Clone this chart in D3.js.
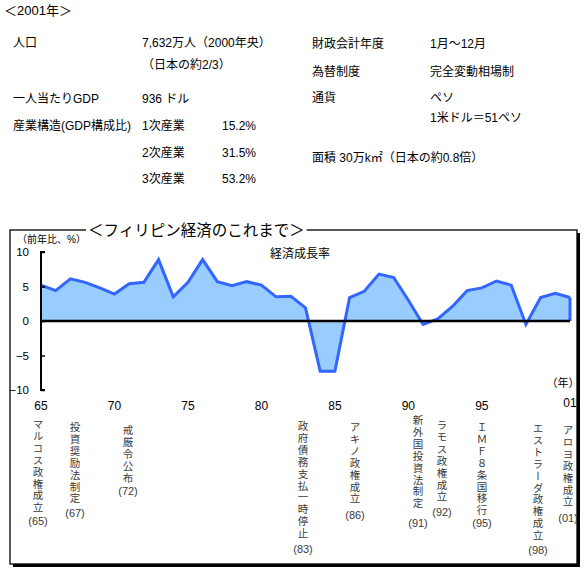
<!DOCTYPE html>
<html><head><meta charset="utf-8">
<script src="https://cdn.jsdelivr.net/npm/d3@7/dist/d3.min.js"></script>
<style>
html,body{margin:0;padding:0;background:#fff;}
svg text{font-family:"Liberation Sans","Noto Sans CJK JP",sans-serif;}
</style></head>
<body><svg id="c" width="587" height="574"></svg>
<script>
// ---- data ----
const years = [1965,1966,1967,1968,1969,1970,1971,1972,1973,1974,1975,1976,1977,1978,1979,1980,1981,1982,1983,1984,1985,1986,1987,1988,1989,1990,1991,1992,1993,1994,1995,1996,1997,1998,1999,2000,2001];
const growth = [5.2,4.4,6.1,5.6,4.8,3.9,5.4,5.6,8.9,3.5,5.6,8.9,5.7,5.1,5.7,5.2,3.5,3.6,1.9,-7.3,-7.3,3.4,4.3,6.8,6.3,3.0,-0.5,0.3,2.1,4.4,4.8,5.8,5.2,-0.5,3.4,4.0,3.4];
const xTickYears = [1965,1970,1975,1980,1985,1990,1995,2001];
const xTickLabels = ["65","70","75","80","85","90","95","01"];
const yTicks = [10,5,0,-5,-10];
const yTickLabels = ["10","5","0","\u22125","\u221210"];
const seriesName = "経済成長率";
const chartTitle = "＜フィリピン経済のこれまで＞";
const yUnit = "（前年比、%）";
const xUnit = "（年）";
const events = ["マルコス政権成立","投資奨励法制定","戒厳令公布","政府債務支払一時停止","アキノ政権成立","新外国投資法制定","ラモス政権成立","ＩＭＦ８条国移行","エストラーダ政権成立","アロヨ政権成立"];
const eventYears = ["(65)","(67)","(72)","(83)","(86)","(91)","(92)","(95)","(98)","(01)"];
const infoLeft = [["人口","7,632万人（2000年央）"],["","（日本の約2/3）"],["一人当たりGDP","936 ドル"],["産業構造(GDP構成比)","1次産業"],["","2次産業"],["","3次産業"]];
const infoShares = ["","","","15.2%","31.5%","53.2%"];
const infoRight = [["財政会計年度","1月～12月"],["為替制度","完全変動相場制"],["通貨","ペソ"],["","1米ドル＝51ペソ"],["面積 30万k㎡（日本の約0.8倍）",""]];

// ---- layout ----
const svg = d3.select("#c");
const infoLeftY = [47,69,103,130,157,183];
const infoRightY = [48,76,102,122,162];
const evX = [38,75,128,303,355,418,442,482,538,568];
const evTop = [424,427,430,426,427,420,425,427,428,430];
const evParY = [521,513,491,549,515,523,512,523,550,518];

svg.append("text").attr("x",4).attr("y",15).attr("font-size",13).text("＜2001年＞");

infoLeft.forEach((r,i)=>{
  svg.append("text").attr("x",13).attr("y",infoLeftY[i]).attr("font-size",12).text(r[0]);
  svg.append("text").attr("x",142).attr("y",infoLeftY[i]).attr("font-size",12).text(r[1]);
  svg.append("text").attr("x",222).attr("y",infoLeftY[i]).attr("font-size",12).text(infoShares[i]);
});
infoRight.forEach((r,i)=>{
  svg.append("text").attr("x",312).attr("y",infoRightY[i]).attr("font-size",12).text(r[0]);
  svg.append("text").attr("x",430).attr("y",infoRightY[i]).attr("font-size",12).text(r[1]);
});

// frame with shadow
svg.append("rect").attr("x",13).attr("y",233).attr("width",567).attr("height",334).attr("fill","#000");
svg.append("rect").attr("x",10).attr("y",230).attr("width",567).attr("height",334).attr("fill","#fff").attr("stroke","#000").attr("stroke-width",1.3);

// title with white background
const tt = svg.append("text").attr("x",88).attr("y",236).attr("font-size",15.5).text(chartTitle);
const bb = tt.node().getBBox();
svg.insert("rect", () => tt.node()).attr("x",bb.x-2).attr("y",bb.y).attr("width",bb.width+4).attr("height",bb.height).attr("fill","#fff");

// scales
const x = d3.scaleLinear().domain([1965,2001]).range([41,570]);
const y = d3.scaleLinear().domain([-10,10]).range([390,252]);
const pts = years.map((yr,i)=>({yr, v: growth[i]}));

svg.append("path").datum(pts)
  .attr("d", d3.area().x(d=>x(d.yr)).y0(y(0)).y1(d=>y(d.v)))
  .attr("fill","#99CCFF");
svg.append("path").datum(pts)
  .attr("d", d3.line().x(d=>x(d.yr)).y(d=>y(d.v)))
  .attr("fill","none").attr("stroke","#3366FF").attr("stroke-width",3).attr("stroke-linejoin","miter");
const last = pts[pts.length-1];
svg.append("line").attr("x1",x(last.yr)).attr("x2",x(last.yr)).attr("y1",y(last.v)).attr("y2",y(0))
  .attr("stroke","#3366FF").attr("stroke-width",3);

// y axis
const yAxis = d3.axisRight(y).tickValues(yTicks).tickSize(4).tickFormat("");
const ya = svg.append("g").attr("transform",`translate(${x(1965)},0)`).call(yAxis);
ya.selectAll("path.domain").attr("stroke","#000").attr("stroke-width",2).attr("d",`M4,${y(10)}H0V${y(-10)}H4`);
ya.selectAll("line").attr("stroke","#000").attr("stroke-width",1.5);
yTicks.forEach((t,i)=>{
  svg.append("text").attr("x",29).attr("y",y(t)+4).attr("text-anchor","end").attr("font-size",11.5).text(yTickLabels[i]);
});
// zero line
svg.append("line").attr("x1",x(1965)).attr("x2",x(2001)).attr("y1",y(0)).attr("y2",y(0)).attr("stroke","#000").attr("stroke-width",2.5);

svg.append("text").attr("x",17).attr("y",243).attr("font-size",10).text(yUnit);
svg.append("text").attr("x",300).attr("y",258).attr("text-anchor","middle").attr("font-size",12).text(seriesName);
svg.append("text").attr("x",563).attr("y",387).attr("text-anchor","middle").attr("font-size",11).text(xUnit);

// x axis labels
xTickYears.forEach((yr,i)=>{
  svg.append("text").attr("x",x(yr)).attr("y",i===xTickYears.length-1?407:410).attr("text-anchor","middle").attr("font-size",12).text(xTickLabels[i]);
});

// events (vertical text)
events.forEach((e,i)=>{
  svg.append("text").attr("x",evX[i]).attr("y",evTop[i]-5.2)
    .attr("font-size",10.5).attr("fill","#3a3a3a")
    .style("writing-mode","vertical-rl").style("letter-spacing","1.4px")
    .style("font-family","'Noto Sans CJK JP',sans-serif")
    .text(e);
  svg.append("text").attr("x",evX[i]).attr("y",evParY[i]+4).attr("text-anchor","middle")
    .attr("font-size",11).attr("fill","#3a3a3a").text(eventYears[i]);
});
</script></body></html>
